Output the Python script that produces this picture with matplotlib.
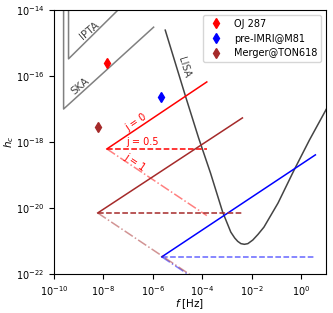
import numpy as np
import matplotlib
matplotlib.use("Agg")
import matplotlib.pyplot as plt

plt.rcParams['font.family'] = ['DejaVu Sans']
plt.rcParams['font.size'] = 7

# ---- data (log10 values) ----
# detector sensitivity curves
ipta_logf = [-9.41, -9.41, -7.41, -6.9]
ipta_logh = [-13.0, -15.48, -14.0, -13.62]
ska_logf = [-9.61, -9.61, -5.97]
ska_logh = [-13.0, -17.00, -14.52]
lisa_logf = [-5.50, -4.67, -4.15, -3.67, -3.18, -2.85, -2.69, -2.57, -2.44, -2.30, -2.16,
             -1.96, -1.75, -1.51, -0.94, -0.29, 0.33, 1.06, 1.3]
lisa_logh = [-14.61, -16.64, -17.88, -18.94, -20.12, -20.73, -20.91, -21.01, -21.08, -21.10, -21.08,
             -20.97, -20.80, -20.58, -19.85, -18.85, -17.94, -16.94, -16.55]

# sources
src_names = ["OJ 287", "pre-IMRI@M81", "Merger@TON618"]
src_colors = ["red", "blue", "brown"]
src_marker_logf = [-7.86, -5.68, -8.23]
src_marker_logh = [-15.61, -16.64, -17.55]
# evolution tracks: start point and end frequency, end strain for j = 0, 0.5, 1
trk_start_logf = [-7.86, -5.64, -8.23]
trk_start_logh = [-18.21, -21.48, -20.15]
trk_end_logf = [-3.82, 0.57, -2.38]
trk_end_logh_j0 = [-16.18, -18.39, -17.27]
trk_end_logh_j05 = [-18.21, -21.48, -20.15]
trk_end_logh_j1 = [-20.23, -24.59, -23.08]
dash_alpha = [1.0, 0.6, 1.0]

xticks = [1e-10, 1e-8, 1e-6, 1e-4, 1e-2, 1e0]
yticks = [1e-22, 1e-20, 1e-18, 1e-16, 1e-14]

# ---- figure ----
fig = plt.figure(figsize=(3.33, 3.13), dpi=100)
ax = fig.add_axes([0.162, 0.1246, 0.817, 0.8434])
ax.set_xscale('log')
ax.set_yscale('log')

p = lambda a: 10.0 ** np.asarray(a)

ax.plot(p(ipta_logf), p(ipta_logh), color='gray', lw=1.1)
ax.plot(p(ska_logf), p(ska_logh), color='gray', lw=1.1)
ax.plot(p(lisa_logf), p(lisa_logh), color='#444444', lw=1.1)

for i in range(3):
    c = src_colors[i]
    fs, hs, fe = trk_start_logf[i], trk_start_logh[i], trk_end_logf[i]
    ax.plot(p([fs, fe]), p([hs, trk_end_logh_j0[i]]), color=c, lw=1.1, ls='-')
    ax.plot(p([fs, fe]), p([hs, trk_end_logh_j05[i]]), color=c, lw=1.1, ls='--', alpha=dash_alpha[i])
    ax.plot(p([fs, fe]), p([hs, trk_end_logh_j1[i]]), color=c, lw=1.1, ls='-.', alpha=0.5)

for i in range(3):
    ax.plot(p(src_marker_logf[i]), p(src_marker_logh[i]), ls='none', marker='d',
            color=src_colors[i], ms=5.5, label=src_names[i])

# labels
ax.text(p(-8.55), p(-14.64), "IPTA", color='#444444', rotation=40, ha='center', va='center', fontsize=7.5)
ax.text(p(-8.92), p(-16.30), "SKA", color='#444444', rotation=40, ha='center', va='center', fontsize=7.5)
ax.text(p(-4.75), p(-15.73), "LISA", color='#444444', rotation=-73, ha='center', va='center', fontsize=7)
ax.text(p(-6.66), p(-17.39), "j = 0", color='red', rotation=34, ha='center', va='center', fontsize=7)
ax.text(p(-6.42), p(-18.0), "j = 0.5", color='red', rotation=0, ha='center', va='center', fontsize=7)
ax.text(p(-6.74), p(-18.61), "j = 1", color='red', rotation=-34, ha='center', va='center', fontsize=7)

ax.set_xlim(1e-10, 1e1)
ax.set_ylim(1e-22, 1e-14)
ax.set_xticks(xticks)
ax.set_yticks(yticks)
ax.minorticks_off()
ax.set_xlabel(r"$f$ [Hz]", labelpad=0, fontsize=7.5)
ax.set_ylabel(r"$h_c$", labelpad=0, fontsize=7.5)
ax.legend(loc='upper right', fontsize=7, handletextpad=0.8)

fig.savefig("out.png", dpi=100)
